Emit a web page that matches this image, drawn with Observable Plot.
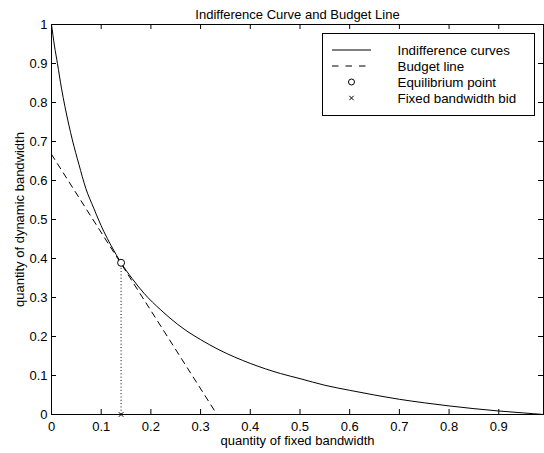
<!DOCTYPE html>
<html>
<head>
<meta charset="utf-8">
<script src="https://cdn.jsdelivr.net/npm/d3@7"></script>
<script src="https://cdn.jsdelivr.net/npm/@observablehq/plot@0.6"></script>
<style>
  body { margin: 0; background: #fff; }
  #wrap { position: relative; width: 544px; height: 453px; font-family: "Liberation Sans", Arial, Helvetica, sans-serif; }
  #legend { position: absolute; left: 322px; top: 33px; }
</style>
</head>
<body>
<div id="wrap"></div>
<script>
// ---- data ----
const titleText = "Indifference Curve and Budget Line";
const xLabel = "quantity of fixed bandwidth";
const yLabel = "quantity of dynamic bandwidth";

const curveX = [0, 0.006, 0.012, 0.02, 0.027, 0.035, 0.042, 0.055, 0.069, 0.085, 0.105, 0.12, 0.14, 0.162, 0.186, 0.22, 0.253, 0.27, 0.3, 0.337, 0.4, 0.461, 0.5, 0.55, 0.6, 0.65, 0.7, 0.75, 0.8, 0.85, 0.9, 0.95, 0.99];
const curveY = [1.00, 0.945, 0.90, 0.837, 0.79, 0.742, 0.704, 0.642, 0.58, 0.529, 0.47, 0.433, 0.389, 0.349, 0.311, 0.268, 0.232, 0.216, 0.192, 0.166, 0.131, 0.105, 0.092, 0.075, 0.062, 0.050, 0.039, 0.030, 0.022, 0.015, 0.009, 0.004, 0];

const budgetX = [0, 0.333];
const budgetY = [0.667, 0];

const equilibriumX = [0.14];
const equilibriumY = [0.389];

const bidX = [0.14];
const bidY = [0];

const xTicks = [0, 0.1, 0.2, 0.3, 0.4, 0.5, 0.6, 0.7, 0.8, 0.9];
const yTicks = [0, 0.1, 0.2, 0.3, 0.4, 0.5, 0.6, 0.7, 0.8, 0.9, 1];

const legendLabels = ["Indifference curves", "Budget line", "Equilibrium point", "Fixed bandwidth bid"];

// ---- build tables ----
const curve = curveX.map((x, i) => ({x, y: curveY[i]}));
const budget = budgetX.map((x, i) => ({x, y: budgetY[i]}));
const eq = equilibriumX.map((x, i) => ({x, y: equilibriumY[i]}));
const bid = bidX.map((x, i) => ({x, y: bidY[i]}));
const drop = eq.map((d, i) => ({x: d.x, y1: bid[i].y, y2: d.y}));

const W = 544, H = 453;
const mT = 24, mB = 39, mL = 51, mR = 1;
const iW = W - mL - mR, iH = H - mT - mB;
const FONT = "Liberation Sans, Arial, Helvetica, sans-serif";
const FS = 13;

const chart = Plot.plot({
  width: W,
  height: H,
  marginTop: mT, marginBottom: mB, marginLeft: mL, marginRight: mR,
  style: {fontFamily: FONT, fontSize: FS + "px", background: "white", color: "black"},
  x: {domain: [0, 0.99]},
  y: {domain: [0, 1]},
  marks: [
    Plot.frame({stroke: "black", strokeWidth: 1}),
    // inward ticks on all four sides
    Plot.tickX(xTicks, {x: d => d, insetTop: iH - 5, stroke: "black"}),
    Plot.tickX(xTicks, {x: d => d, insetBottom: iH - 5, stroke: "black"}),
    Plot.tickY(yTicks, {y: d => d, insetRight: iW - 5, stroke: "black"}),
    Plot.tickY(yTicks, {y: d => d, insetLeft: iW - 5, stroke: "black"}),
    Plot.axisX(xTicks, {tickSize: 0, tickPadding: 7, label: null, fontSize: FS, tickFormat: d => String(d)}),
    Plot.axisY(yTicks, {tickSize: 0, tickPadding: 4, label: null, fontSize: FS, tickFormat: d => String(d)}),
    Plot.line(curve, {x: "x", y: "y", stroke: "black", strokeWidth: 1, curve: "monotone-x"}),
    Plot.line(budget, {x: "x", y: "y", stroke: "black", strokeWidth: 1, strokeDasharray: "6,5"}),
    Plot.ruleX(drop, {x: "x", y1: "y1", y2: "y2", stroke: "black", strokeWidth: 1, strokeDasharray: "1,2.3"}),
    Plot.dot(eq, {x: "x", y: "y", r: 3.5, stroke: "black", fill: "white", strokeWidth: 1}),
    Plot.dot(bid, {x: "x", y: "y", symbol: "times", r: 2.2, stroke: "black", strokeWidth: 1}),
    Plot.text([titleText], {frameAnchor: "top", dy: -15, fontSize: FS, fill: "black"}),
    Plot.text([xLabel], {frameAnchor: "bottom", dy: 30.5, fontSize: FS, fill: "black"}),
    Plot.text([yLabel], {frameAnchor: "left", dx: -32, rotate: -90, textAnchor: "middle", fontSize: FS, fill: "black"})
  ]
});

const wrap = document.getElementById("wrap");
wrap.appendChild(chart);

// ---- legend box (drawn inside the axes, as in the reference) ----
const LW = 212, LH = 82;
const leg = d3.select(wrap).append("svg")
  .attr("id", "legend")
  .attr("width", LW + 1).attr("height", LH + 1)
  .style("font-family", FONT).style("font-size", "13.33px");
leg.append("rect").attr("x", 0.5).attr("y", 0.5).attr("width", LW).attr("height", LH)
  .attr("fill", "white").attr("stroke", "black");
const rowY = i => 17 + i * 16;
const rows = leg.selectAll("g.row").data(legendLabels).join("g")
  .attr("class", "row")
  .attr("transform", (d, i) => `translate(0,${rowY(i)})`);
rows.append("text").attr("x", 75.5).attr("y", 0).attr("dy", "0.35em").text(d => d);
// samples
const g0 = leg.append("g").attr("transform", `translate(0,${rowY(0)})`);
g0.append("line").attr("x1", 10).attr("x2", 49).attr("y1", 0).attr("y2", 0).attr("stroke", "black");
const g1 = leg.append("g").attr("transform", `translate(0,${rowY(1)})`);
g1.append("line").attr("x1", 10).attr("x2", 49).attr("y1", 0).attr("y2", 0).attr("stroke", "black").attr("stroke-dasharray", "6.5,7");
const g2 = leg.append("g").attr("transform", `translate(0,${rowY(2)})`);
g2.append("circle").attr("cx", 29.5).attr("cy", 0).attr("r", 3).attr("fill", "none").attr("stroke", "black");
const g3 = leg.append("g").attr("transform", `translate(0,${rowY(3)})`);
g3.append("path").attr("d", d3.symbol(d3.symbolTimes, 14)()).attr("transform", "translate(29.5,0)").attr("stroke", "black").attr("fill", "none");
</script>
</body>
</html>
